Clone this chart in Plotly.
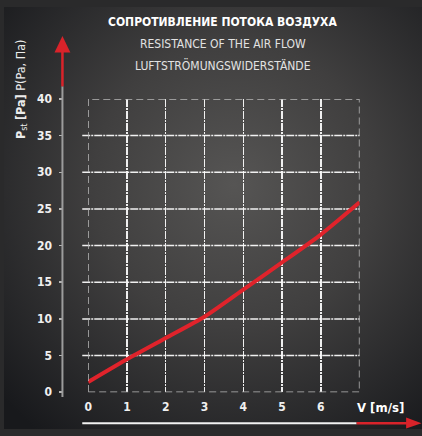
import base64
import plotly.graph_objects as go

# ---- data ----
velocity = [0, 1, 2, 3, 4, 5, 6, 7]
pressure = [1.4, 4.5, 7.4, 10.3, 14.0, 17.7, 21.5, 25.9]
x_ticks = [0, 1, 2, 3, 4, 5, 6]
y_ticks = [0, 5, 10, 15, 20, 25, 30, 35, 40]
title_ru = "СОПРОТИВЛЕНИЕ ПОТОКА ВОЗДУХА"
title_en = "RESISTANCE OF THE AIR FLOW"
title_de = "LUFTSTRÖMUNGSWIDERSTÄNDE"
y_title = "<b>P</b><sub>st</sub> <b>[Pa]</b> P(Pa, Па)"
x_title = "<b>V [m/s]</b>"

W, H = 422, 436
FONT = "Liberation Sans Narrow, DejaVu Sans Condensed, Arial Narrow, sans-serif"

def px(x):
    return x / W

def py(y):
    return 1 - y / H

svg = f'''<svg xmlns="http://www.w3.org/2000/svg" width="{W}" height="{H}" viewBox="0 0 {W} {H}">
<defs><radialGradient id="g" cx="0.55" cy="0.42" r="0.75">
<stop offset="0" stop-color="#565554"/>
<stop offset="0.45" stop-color="#403f3f"/>
<stop offset="1" stop-color="#18191c"/>
</radialGradient></defs>
<rect width="{W}" height="{H}" fill="url(#g)"/></svg>'''
bg_src = "data:image/svg+xml;base64," + base64.b64encode(svg.encode()).decode()

fig = go.Figure()
fig.add_trace(go.Scatter(
    x=velocity, y=pressure, mode="lines",
    line=dict(color="#e0232b", width=4, shape="spline", smoothing=0.6),
    hoverinfo="skip", showlegend=False,
))

GRID_DASH = "8px,1px,2px,1px"
grid = dict(gridcolor="rgba(255,255,255,0.92)", gridwidth=1.5, griddash=GRID_DASH)

fig.update_layout(
    width=W, height=H,
    margin=dict(l=0, r=0, t=0, b=0),
    paper_bgcolor="#2a2a2b",
    plot_bgcolor="rgba(0,0,0,0)",
    hovermode=False,
    images=[dict(source=bg_src, xref="paper", yref="paper", x=0, y=1,
                 sizex=1, sizey=1, xanchor="left", yanchor="top",
                 sizing="stretch", layer="below")],
    xaxis=dict(
        domain=[px(85), px(359)], range=[0, 7],
        tickvals=x_ticks, ticktext=[str(v) for v in x_ticks],
        showline=False, zeroline=False, ticks="",
        tickfont=dict(family=FONT, size=12, color="#f0f0f0", weight="bold"),
        ticklabelstandoff=6,
        showgrid=True, **grid,
    ),
    yaxis=dict(
        domain=[py(398), py(95)], range=[0, 40],
        anchor="free", position=px(59),
        tickvals=y_ticks, ticktext=[str(v) for v in y_ticks],
        showline=False, zeroline=False,
        ticks="outside", ticklen=3, tickwidth=1.5, tickcolor="#b5b5b5",
        tickfont=dict(family=FONT, size=12, color="#f0f0f0", weight="bold"),
        ticklabelstandoff=5,
        showgrid=False,
    ),
    yaxis2=dict(
        domain=[py(398), py(95)], range=[0, 40], overlaying="y",
        anchor="free", position=px(59),
        tickvals=y_ticks, showticklabels=False,
        showline=False, zeroline=False, showgrid=False,
        ticks="inside", ticklen=3, tickwidth=1.5, tickcolor="#b5b5b5",
    ),
)

shapes = []
# horizontal grid lines (extend slightly left of plot border)
for v in y_ticks[1:-1]:
    shapes.append(dict(type="line", xref="paper", yref="y", x0=px(79), x1=px(359),
                       y0=v, y1=v, layer="below",
                       line=dict(color="rgba(255,255,255,0.92)", width=1.5,
                                 dash=GRID_DASH)))
# dashed border
shapes.append(dict(type="rect", xref="x", yref="y", x0=0, x1=7, y0=0, y1=40,
                   line=dict(color="#b8b8b8", width=1.5, dash="7px,4px")))
# y axis line
shapes.append(dict(type="line", xref="paper", yref="paper", x0=px(59), x1=px(59),
                   y0=py(82), y1=py(403), line=dict(color="#9c9c9c", width=2)))
# y arrow
shapes.append(dict(type="line", xref="paper", yref="paper", x0=px(59), x1=px(59),
                   y0=py(82), y1=py(44), line=dict(color="#d9232a", width=2.5)))
shapes.append(dict(type="path", xref="paper", yref="paper",
                   path=f"M {px(51)} {py(47)} L {px(67)} {py(47)} L {px(59)} {py(30)} Z",
                   fillcolor="#d9232a", line=dict(width=0)))
# x axis line
shapes.append(dict(type="line", xref="paper", yref="paper", x0=px(79), x1=px(356),
                   y0=py(430), y1=py(430), line=dict(color="#f2f2f2", width=2)))
# x arrow (kept inside the figure bounds)
shapes.append(dict(type="line", xref="paper", yref="paper", x0=px(356), x1=px(408),
                   y0=py(430), y1=py(430), line=dict(color="#d9232a", width=2.5)))
shapes.append(dict(type="path", xref="paper", yref="paper",
                   path=f"M {px(406)} {py(424)} L {px(406)} {py(435.5)} L {px(421.5)} {py(430)} Z",
                   fillcolor="#d9232a", line=dict(width=0)))
fig.update_layout(shapes=shapes)

ann = [
    dict(text=f"<b>{title_ru}</b>", x=px(221), y=py(16),
         font=dict(family=FONT, size=12, color="#ffffff")),
    dict(text=title_en, x=px(221), y=py(38),
         font=dict(family=FONT, size=12, color="#e2e2e2")),
    dict(text=title_de, x=px(221), y=py(60),
         font=dict(family=FONT, size=12, color="#e2e2e2")),
    dict(text=y_title, x=px(17), y=py(85), textangle=-90,
         font=dict(family=FONT, size=12.5, color="#ececec")),
    dict(text=x_title, x=px(380), y=py(414),
         font=dict(family=FONT, size=13, color="#ffffff")),
]
for a in ann:
    a.update(xref="paper", yref="paper", showarrow=False,
             xanchor="center", yanchor="middle")
fig.update_layout(annotations=ann)

fig.write_html(
    "out.html",
    config={"displayModeBar": False, "staticPlot": True},
    post_script=(
        "var d=document.getElementById('{plot_id}');"
        "d.style.position='fixed';d.style.left='0px';d.style.top='0px';"
        "document.body.style.margin='0';document.body.style.padding='0';"
        "document.documentElement.style.overflow='hidden';"
    ),
)
